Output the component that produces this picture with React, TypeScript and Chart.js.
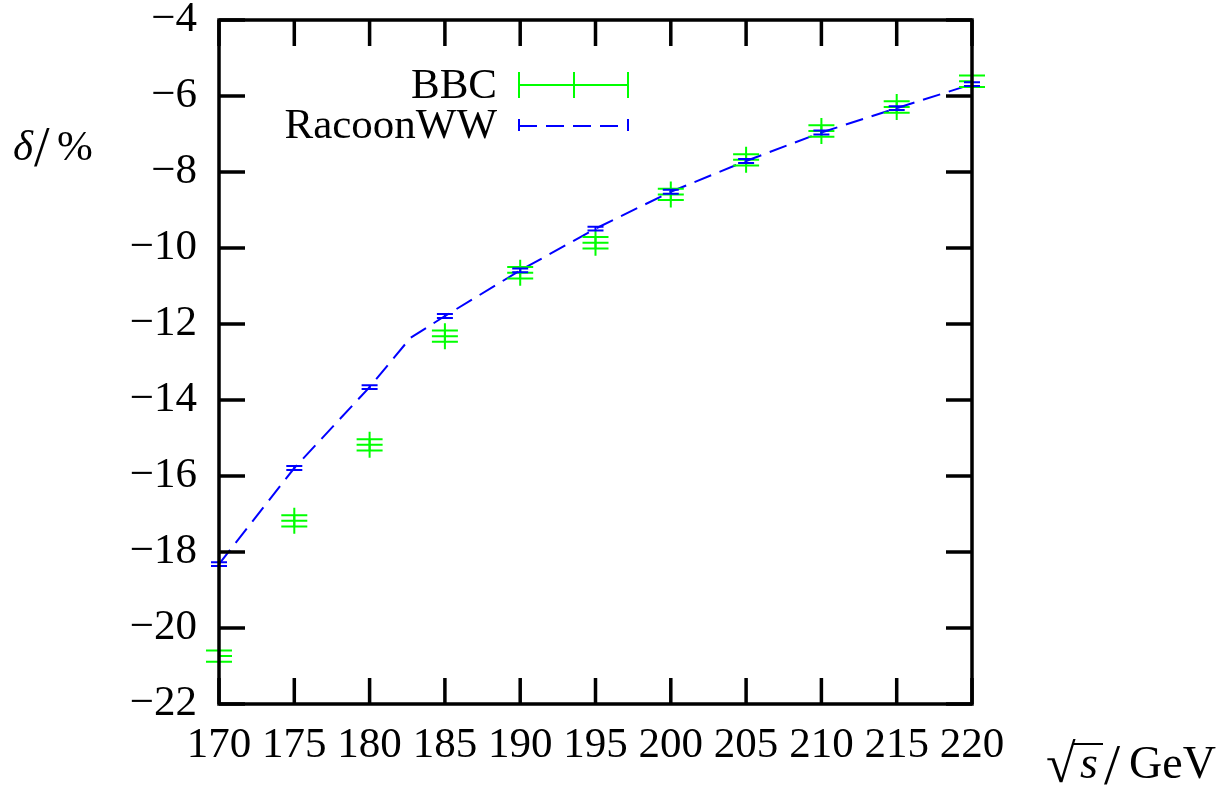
import React, { useEffect, useRef } from "react";
import { Chart, registerables } from "chart.js";

Chart.register(...registerables);

// ---- data ----
const energies = [170, 175, 180, 185, 190, 195, 200, 205, 210, 215, 220];
const bbcValues = [-20.74, -17.18, -15.18, -12.32, -10.65, -9.86, -8.59, -7.68, -6.92, -6.29, -5.61];
const bbcErrors = [0.15, 0.15, 0.15, 0.15, 0.15, 0.15, 0.15, 0.15, 0.15, 0.15, 0.15];
const racoonValues = [-18.32, -15.79, -13.66, -11.79, -10.59, -9.49, -8.52, -7.71, -6.96, -6.32, -5.69];
const racoonErrors = [0.05, 0.05, 0.05, 0.05, 0.05, 0.05, 0.05, 0.05, 0.05, 0.05, 0.05];
const racoonLineEnergies = [170, 175, 180, 182.7, 185, 190, 195, 200, 205, 210, 215, 220];
const racoonLineValues = [-18.32, -15.79, -13.66, -12.37, -11.79, -10.59, -9.49, -8.52, -7.71, -6.96, -6.32, -5.69];
const xTicks = [170, 175, 180, 185, 190, 195, 200, 205, 210, 215, 220];
const yTicks = [-22, -20, -18, -16, -14, -12, -10, -8, -6, -4];
const seriesNames = ["BBC", "RacoonWW"];

const GREEN = "#00ff00";
const BLUE = "#0000ff";
const FONT = "'Liberation Serif', 'DejaVu Serif', serif";
const FS = 43;

const fmt = (v: number) => (v < 0 ? "\u2212" + Math.abs(v) : String(v));

const decorPlugin = {
  id: "decor",
  afterDatasetsDraw(chart: any) {
    const ctx = chart.ctx;
    const xs = chart.scales.x;
    const ys = chart.scales.y;
    ctx.save();
    const drawErr = (vals: number[], errs: number[], color: string, half: number, lw: number) => {
      ctx.strokeStyle = color;
      ctx.lineWidth = lw;
      ctx.setLineDash([]);
      vals.forEach((v, i) => {
        const px = xs.getPixelForValue(energies[i]);
        const y1 = ys.getPixelForValue(v - errs[i]);
        const y2 = ys.getPixelForValue(v + errs[i]);
        ctx.beginPath();
        ctx.moveTo(px, y1);
        ctx.lineTo(px, y2);
        ctx.moveTo(px - half, y1);
        ctx.lineTo(px + half, y1);
        ctx.moveTo(px - half, y2);
        ctx.lineTo(px + half, y2);
        ctx.stroke();
      });
    };
    drawErr(bbcValues, bbcErrors, GREEN, 13, 2);
    drawErr(racoonValues, racoonErrors, BLUE, 8, 2);
    ctx.restore();
  },
  afterDraw(chart: any) {
    const ctx = chart.ctx;
    const a = chart.chartArea;
    const xs = chart.scales.x;
    const ys = chart.scales.y;
    ctx.save();
    ctx.setLineDash([]);
    ctx.strokeStyle = "#000";
    ctx.lineWidth = 3.5;
    ctx.strokeRect(a.left, a.top, a.right - a.left, a.bottom - a.top);
    const tl = 26;
    ctx.beginPath();
    yTicks.forEach((t) => {
      const py = ys.getPixelForValue(t);
      ctx.moveTo(a.left, py);
      ctx.lineTo(a.left + tl, py);
      ctx.moveTo(a.right, py);
      ctx.lineTo(a.right - tl, py);
    });
    xTicks.forEach((t) => {
      const px = xs.getPixelForValue(t);
      ctx.moveTo(px, a.bottom);
      ctx.lineTo(px, a.bottom - tl);
      ctx.moveTo(px, a.top);
      ctx.lineTo(px, a.top + tl);
    });
    ctx.stroke();

    // legend
    ctx.fillStyle = "#000";
    ctx.font = `${FS}px ${FONT}`;
    ctx.textAlign = "right";
    ctx.textBaseline = "alphabetic";
    ctx.fillText(seriesNames[0], 497, 98);
    ctx.fillText(seriesNames[1], 497, 138);
    ctx.strokeStyle = GREEN;
    ctx.lineWidth = 2;
    ctx.beginPath();
    ctx.moveTo(519, 85);
    ctx.lineTo(628, 85);
    [519, 574, 628].forEach((x) => {
      ctx.moveTo(x, 72);
      ctx.lineTo(x, 98);
    });
    ctx.stroke();
    ctx.strokeStyle = BLUE;
    ctx.beginPath();
    ctx.moveTo(519, 119);
    ctx.lineTo(519, 131);
    ctx.moveTo(628, 119);
    ctx.lineTo(628, 131);
    ctx.stroke();
    ctx.setLineDash([18, 9]);
    ctx.beginPath();
    ctx.moveTo(519, 126);
    ctx.lineTo(628, 126);
    ctx.stroke();
    ctx.setLineDash([]);

    // y axis title
    ctx.fillStyle = "#000";
    ctx.textAlign = "left";
    ctx.font = `italic ${FS}px ${FONT}`;
    ctx.fillText("\u03b4", 13, 160);
    ctx.font = `56px ${FONT}`;
    ctx.fillText("/", 34, 166);
    ctx.font = `${FS}px ${FONT}`;
    ctx.fillText("%", 57, 160);

    // x axis title
    const by = 778;
    ctx.font = `54px ${FONT}`;
    ctx.fillText("\u221a", 1046, by + 4);
    const wr = ctx.measureText("\u221a").width;
    ctx.font = `italic 46px ${FONT}`;
    ctx.fillText("s", 1080, by);
    ctx.font = `58px ${FONT}`;
    ctx.fillText("/", 1104, by + 6);
    ctx.font = `46px ${FONT}`;
    ctx.fillText("GeV", 1129, by);
    ctx.strokeStyle = "#000";
    ctx.lineWidth = 2;
    ctx.beginPath();
    ctx.moveTo(1046 + wr - 3, 744);
    ctx.lineTo(1103, 744);
    ctx.stroke();
    ctx.restore();
  },
};

export default function App() {
  const ref = useRef<HTMLCanvasElement | null>(null);
  useEffect(() => {
    if (!ref.current) return;
    const chart = new Chart(ref.current, {
      type: "scatter",
      data: {
        datasets: [
          {
            label: seriesNames[1] + " line",
            data: racoonLineEnergies.map((x, i) => ({ x, y: racoonLineValues[i] })),
            showLine: true,
            borderColor: BLUE,
            borderWidth: 2,
            borderDash: [18, 9],
            pointRadius: 0,
            tension: 0,
            order: 1,
          } as any,
          {
            label: seriesNames[0],
            data: energies.map((x, i) => ({ x, y: bbcValues[i] })),
            showLine: false,
            pointStyle: "cross",
            pointRadius: 13,
            pointBorderWidth: 2,
            borderColor: GREEN,
            backgroundColor: GREEN,
            order: 2,
          } as any,
        ],
      },
      options: {
        animation: false,
        responsive: false,
        devicePixelRatio: 1,
        layout: { padding: { left: 0, right: 248, top: 20, bottom: 0 } },
        plugins: { legend: { display: false }, tooltip: { enabled: false } },
        scales: {
          x: {
            type: "linear",
            min: 170,
            max: 220,
            afterBuildTicks: (s: any) => {
              s.ticks = xTicks.map((v) => ({ value: v }));
            },
            afterFit: (s: any) => {
              s.height = 82;
              s.paddingLeft = 0;
              s.paddingRight = 0;
            },
            grid: { display: false, drawTicks: false },
            border: { display: false },
            ticks: {
              padding: 16,
              color: "#000",
              font: { family: FONT, size: FS },
              maxRotation: 0,
              autoSkip: false,
              callback: (v: any) => fmt(Number(v)),
            },
          },
          y: {
            type: "linear",
            min: -22,
            max: -4,
            afterBuildTicks: (s: any) => {
              s.ticks = yTicks.map((v) => ({ value: v }));
            },
            afterFit: (s: any) => {
              s.width = 219;
              s.paddingTop = 0;
              s.paddingBottom = 0;
            },
            grid: { display: false, drawTicks: false },
            border: { display: false },
            ticks: {
              padding: 22,
              color: "#000",
              font: { family: FONT, size: FS },
              autoSkip: false,
              callback: (v: any) => fmt(Number(v)),
            },
          },
        },
      },
      plugins: [decorPlugin],
    });
    return () => chart.destroy();
  }, []);
  return (
    <div style={{ position: "fixed", left: 0, top: 0, width: 1220, height: 786, background: "#fff" }}>
      <canvas ref={ref} width={1220} height={786} />
    </div>
  );
}
